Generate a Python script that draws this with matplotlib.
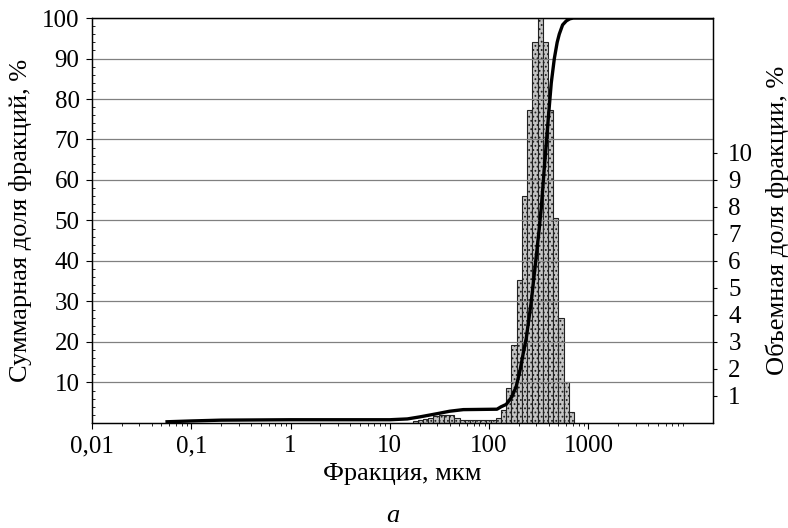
import matplotlib
matplotlib.use("Agg")
import matplotlib.pyplot as plt
from matplotlib.ticker import FixedLocator, NullFormatter, LogLocator
import numpy as np

plt.rcParams["font.family"] = ["Liberation Serif", "DejaVu Serif"]
plt.rcParams["hatch.color"] = "#333333"
plt.rcParams["hatch.linewidth"] = 0.8

# bin edges (um) and volume fraction (%) per bin
bin_edges = [17, 19.1, 21.6, 24.4, 27.5, 31, 35, 39.6, 44.7, 50.5, 57, 64, 72, 81.5, 92,
             104, 117, 132, 149, 168, 190, 214, 242, 273, 308, 348, 393, 443, 500, 565, 638, 720]
volume_pct = [0.07, 0.1, 0.15, 0.2, 0.25, 0.28, 0.3, 0.3, 0.2, 0.12, 0.1, 0.1, 0.1, 0.1, 0.1,
              0.1, 0.2, 0.48, 1.3, 2.9, 5.3, 8.4, 11.6, 14.1, 16.0, 14.1, 11.6, 7.6, 3.9, 1.5, 0.4]

# cumulative curve
cum_size = [0.057, 0.1, 0.2, 1, 10, 15, 20, 30, 40, 55, 120, 132, 149, 170, 187.5, 205, 220,
            237, 266, 298, 320, 335, 360, 394, 423, 454, 485, 509, 550, 600, 650, 705, 18000]
cum_pct = [0.3, 0.5, 0.7, 0.8, 0.8, 1.0, 1.5, 2.3, 2.9, 3.3, 3.4, 4.0, 4.6, 6.5, 9.0, 13.0, 17.0,
           21, 30, 41, 48, 53, 63, 75, 84, 90, 94, 96, 98.3, 99.3, 99.8, 100, 100]

left_ticks = [10, 20, 30, 40, 50, 60, 70, 80, 90, 100]
right_ticks = [1, 2, 3, 4, 5, 6, 7, 8, 9, 10]
x_ticks = [0.01, 0.1, 1, 10, 100, 1000]
x_labels = ["0,01", "0,1", "1", "10", "100", "1000"]

fig = plt.figure(figsize=(7.88, 5.28), dpi=100)
ax = fig.add_axes([0.1168, 0.1989, 0.788, 0.767])
ax2 = ax.twinx()

left = np.array(bin_edges[:-1])
width = np.array(bin_edges[1:]) - left
ax2.bar(left, volume_pct, width=width, align="edge", facecolor="#c4c4c4",
        edgecolor="#222222", linewidth=0.8, hatch="....")
ax2.set_ylim(0, 15)
ax2.yaxis.set_major_locator(FixedLocator(right_ticks))
ax2.tick_params(axis="y", direction="out", length=3, width=0.8, labelsize=18, pad=8)
ax2.set_ylabel("Объемная доля фракции, %", fontsize=19, labelpad=9)

ax.set_zorder(ax2.get_zorder() + 1)
ax.patch.set_visible(False)
ax.plot(cum_size, cum_pct, color="black", linewidth=2.4, solid_joinstyle="round")
ax.set_xscale("log")
ax.set_xlim(0.01, 18000)
ax.set_ylim(0, 100)
ax.set_xticks(x_ticks)
ax.set_xticklabels(x_labels)
ax.xaxis.set_minor_locator(LogLocator(base=10, subs=np.arange(2, 10), numticks=20))
ax.xaxis.set_minor_formatter(NullFormatter())
ax.yaxis.set_major_locator(FixedLocator(left_ticks))
ax.yaxis.set_minor_locator(FixedLocator(np.arange(2, 100, 2)))
ax.tick_params(axis="both", which="major", direction="out", length=4, width=0.8, labelsize=18)
ax.tick_params(axis="x", which="major", pad=5)
ax.tick_params(axis="y", which="major", pad=5)
ax.tick_params(axis="y", which="minor", direction="in", length=2, width=0.6)
ax.tick_params(axis="x", which="minor", direction="out", length=2.5, width=0.6)
ax.grid(axis="y", which="major", color="#808080", linewidth=0.9)
ax.set_xlabel("Фракция, мкм", fontsize=19, labelpad=4)
ax.set_ylabel("Суммарная доля фракций, %", fontsize=19, labelpad=7)

for a in (ax, ax2):
    for s in a.spines.values():
        s.set_linewidth(0.9)

fig.text(0.4987, 0.012, "а", fontsize=19, style="italic", ha="center")

fig.savefig("out.png", dpi=100)
